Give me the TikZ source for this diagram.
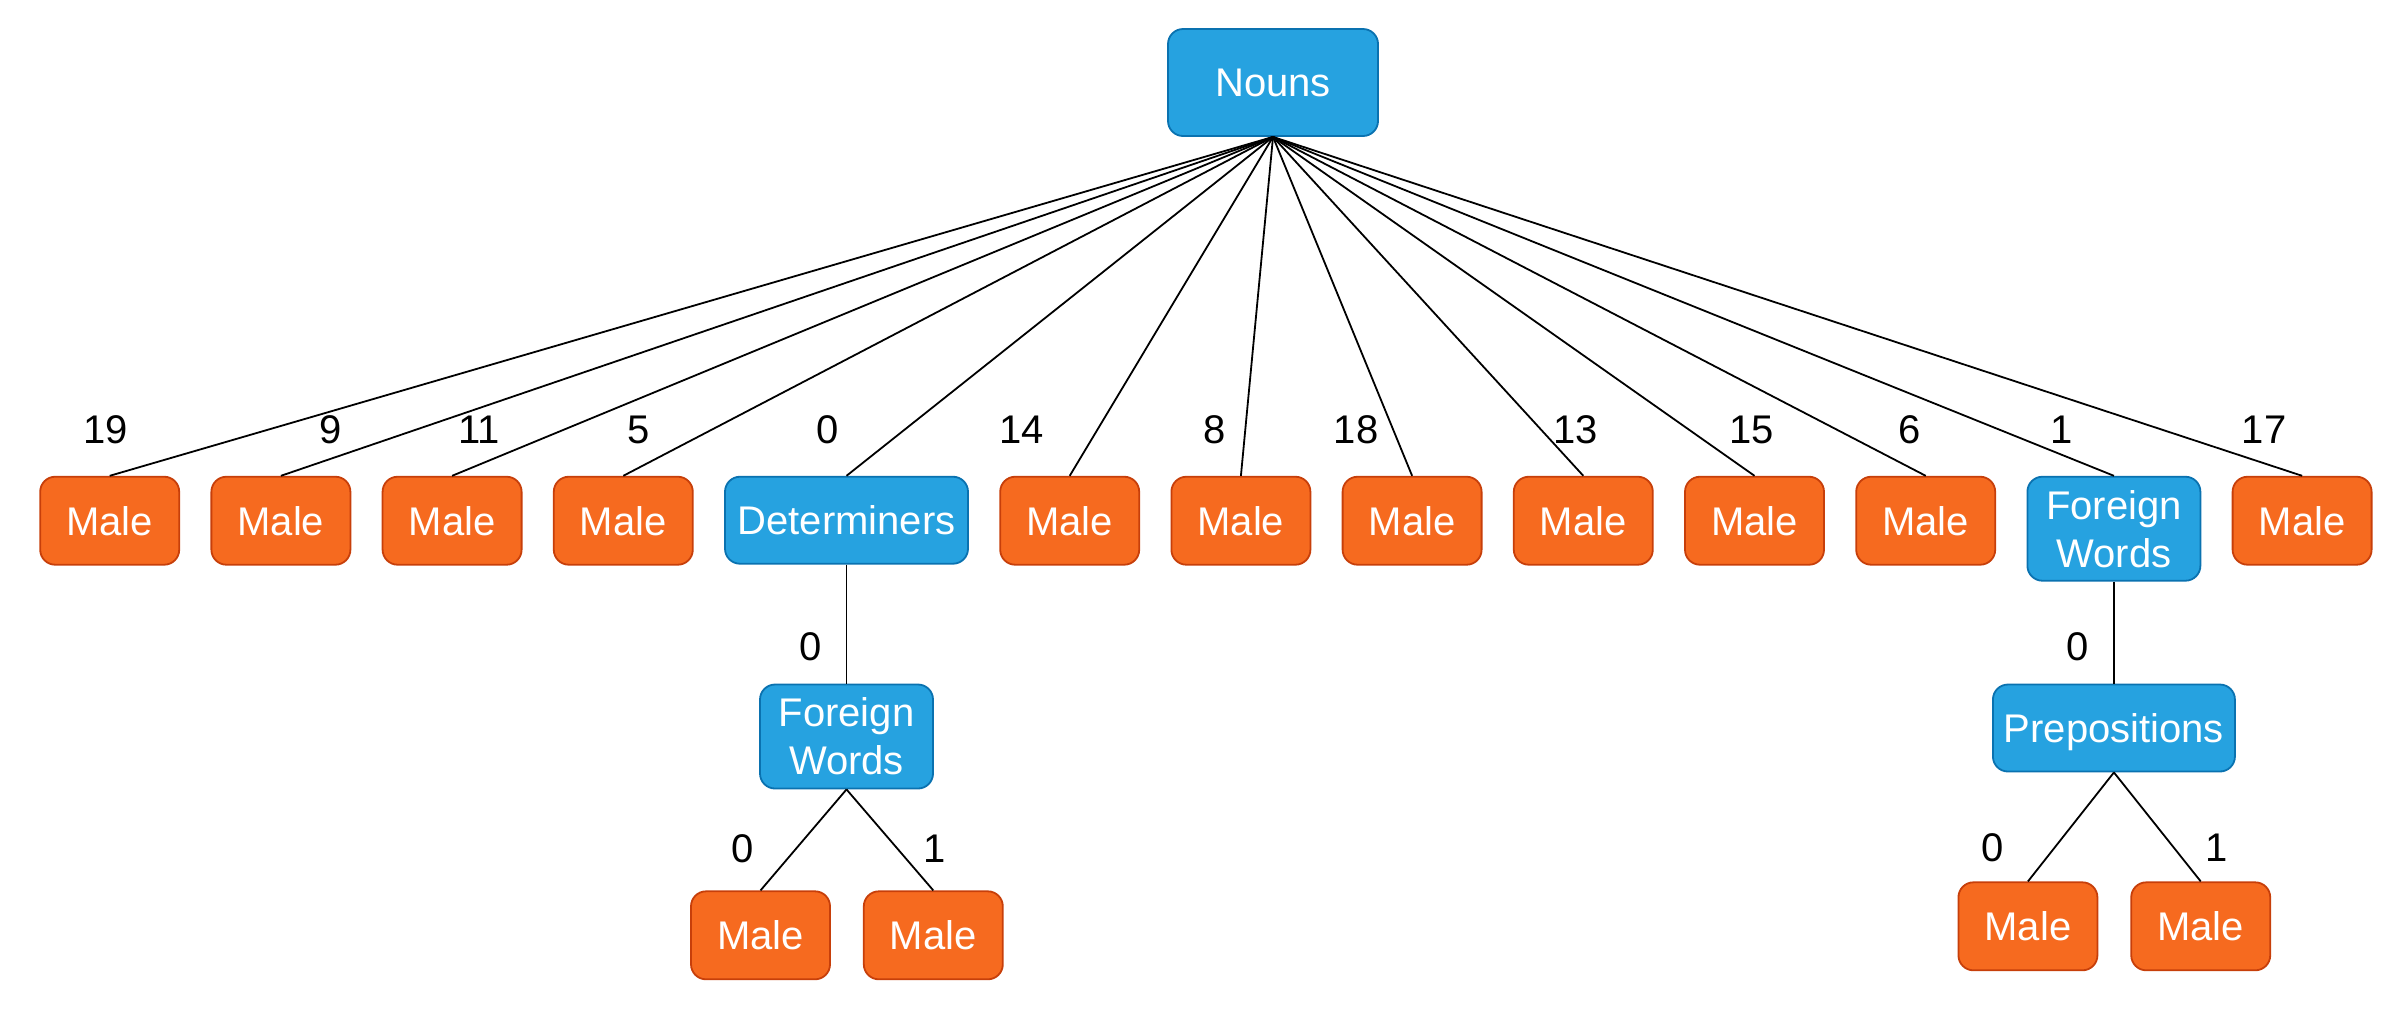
\documentclass[tikz,border=0pt]{standalone}
\usepackage{fontspec}
\setmainfont{Liberation Sans}
\usepackage{xcolor}
\usepackage{tikz}
\usetikzlibrary{matrix,positioning}
\definecolor{maleorange}{HTML}{F66A1F}
\definecolor{maleedge}{HTML}{C73F0A}
\definecolor{catblue}{HTML}{26A2E0}
\definecolor{catedge}{HTML}{0A72B0}
\tikzset{
  box/.style={draw, rounded corners=3.75pt, line width=0.45pt, text=white, minimum width=34.75pt, minimum height=22pt, inner sep=2pt, text depth=0pt},
  male/.style={box, fill=maleorange, draw=maleedge},
  cat/.style={box, fill=catblue, draw=catedge},
  fwbox/.style={text width=36pt, align=center, minimum width=43.25pt, minimum height=26pt, text depth={}},
  edgelbl/.style={inner sep=0pt, text depth=0pt},
  edge/.style={draw=black, line width=0.45pt}
}
\begin{document}
\begin{tikzpicture}[x=0.25pt, y=-0.25pt, every node/.style={font=\fontsize{10}{12}\selectfont}]
\useasboundingbox (0,0) rectangle (2404,1010);
\node[cat, minimum width=52.5pt, minimum height=26.75pt] (nouns) at (1273,82.5) {Nouns};
\matrix[matrix of nodes, nodes={male, anchor=north}, column sep=7.6pt, inner sep=0pt, anchor=north west] (R) at (38.5,475) {
 Male & Male & Male & Male & |[cat, minimum width=60.75pt, minimum height=21.75pt]| Determiners & Male & Male & Male & Male & Male & Male & |[cat, fwbox]| Foreign Words & Male \\
};
\foreach \k in {1,...,13} \draw[edge] (nouns.south) -- (R-1-\k.north);
\foreach \k/\lab/\dx in {1/19/-1, 2/9/12.5, 3/11/6.75, 4/5/3.75, 5/0/-4.75, 6/14/-12, 7/8/-6.5, 8/18/-14, 9/13/-2, 10/15/-0.75, 11/6/-4, 12/1/-13, 13/17/-9.5}
  \node[edgelbl, above=8pt of R-1-\k.north, xshift=\dx pt] (l\k) {\lab};
\node[cat, fwbox, below=29.75pt of R-1-5] (fw1) {Foreign Words};
\node[male, below=25.25pt of fw1, xshift=-21.5pt] (ml1) {Male};
\node[male, right=8pt of ml1] (mr1) {Male};
\node[cat, minimum width=60.5pt, minimum height=21.75pt, below=25.5pt of R-1-12] (prep) {Prepositions};
\node[male, below=27.25pt of prep, xshift=-21.5pt] (ml2) {Male};
\node[male, right=8pt of ml2] (mr2) {Male};
\draw[edge] (R-1-5.south) -- (fw1.north);
\draw[edge] (fw1.south) -- (ml1.north);
\draw[edge] (fw1.south) -- (mr1.north);
\draw[edge] (R-1-12.south) -- (prep.north);
\draw[edge] (prep.south) -- (ml2.north);
\draw[edge] (prep.south) -- (mr2.north);
\node[edgelbl, above=5.5pt of fw1.north, xshift=-9pt] (lfw1) {0};
\node[edgelbl, above=6.75pt of ml1.north, xshift=-4.5pt] (lml1) {0};
\node[edgelbl, above=6.75pt of mr1.north, xshift=0.25pt] (lmr1) {1};
\node[edgelbl, above=5.5pt of prep.north, xshift=-9pt] (lprep) {0};
\node[edgelbl, above=4.75pt of ml2.north, xshift=-8.75pt] (lml2) {0};
\node[edgelbl, above=4.75pt of mr2.north, xshift=4pt] (lmr2) {1};
\end{tikzpicture}
\end{document}
